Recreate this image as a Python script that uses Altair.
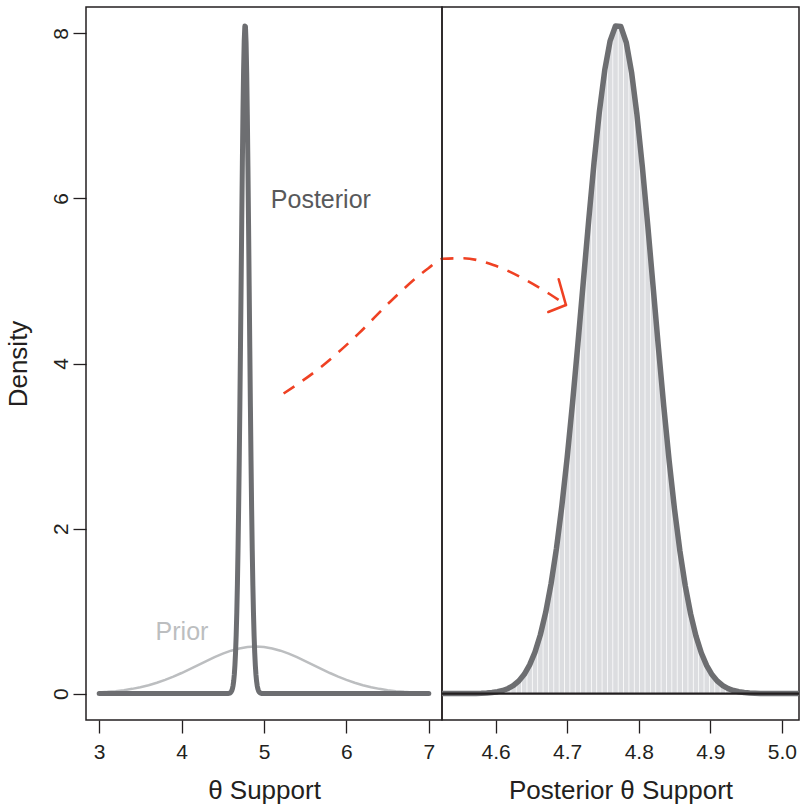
import altair as alt
import pandas as pd

# ---------------- data ----------------
prior_x = [3.0, 3.1, 3.2, 3.3, 3.4, 3.5, 3.6, 3.7, 3.8, 3.9, 4.0, 4.1, 4.2, 4.3, 4.4,
           4.5, 4.6, 4.7, 4.8, 4.9, 5.0, 5.1, 5.2, 5.3, 5.4, 5.5, 5.6, 5.7, 5.8, 5.9,
           6.0, 6.1, 6.2, 6.3, 6.4, 6.5, 6.6, 6.7, 6.8, 6.9, 7.0]
prior_y = [0.0143, 0.0209, 0.0299, 0.0418, 0.0574, 0.0771, 0.1016, 0.1311, 0.1658,
           0.2055, 0.2494, 0.2966, 0.3457, 0.3948, 0.4416, 0.4841, 0.5200, 0.5472,
           0.5642, 0.5700, 0.5642, 0.5472, 0.5200, 0.4841, 0.4416, 0.3948, 0.3457,
           0.2966, 0.2494, 0.2055, 0.1658, 0.1311, 0.1016, 0.0771, 0.0574, 0.0418,
           0.0299, 0.0209, 0.0143, 0.0096, 0.0063]

post_x = [4.55, 4.5575, 4.565, 4.5725, 4.58, 4.5875, 4.595, 4.6025, 4.61, 4.6175,
          4.625, 4.6325, 4.64, 4.6475, 4.655, 4.6625, 4.67, 4.6775, 4.685, 4.6925,
          4.7, 4.7075, 4.715, 4.7225, 4.73, 4.7375, 4.745, 4.7525, 4.76, 4.7675,
          4.775, 4.7825, 4.79, 4.7975, 4.805, 4.8125, 4.82, 4.8275, 4.835, 4.8425,
          4.85, 4.8575, 4.865, 4.8725, 4.88, 4.8875, 4.895, 4.9025, 4.91, 4.9175,
          4.925, 4.9325, 4.94, 4.9475, 4.955, 4.9625, 4.97, 4.9775, 4.985, 4.9925, 5.0]
post_y = [0.0003, 0.0007, 0.0013, 0.0024, 0.0043, 0.0077, 0.0135, 0.023, 0.038, 0.062,
          0.099, 0.154, 0.234, 0.348, 0.503, 0.713, 0.986, 1.334, 1.760, 2.271,
          2.864, 3.525, 4.243, 4.988, 5.731, 6.432, 7.053, 7.556, 7.910, 8.090,
          8.083, 7.892, 7.527, 7.015, 6.387, 5.683, 4.939, 4.194, 3.480, 2.821,
          2.234, 1.729, 1.307, 0.966, 0.697, 0.492, 0.339, 0.228, 0.150, 0.096,
          0.060, 0.037, 0.022, 0.013, 0.0074, 0.0042, 0.0023, 0.0012, 0.0006, 0.0003, 0.0002]

# posterior curve drawn across the full support (zero outside the peak)
support_ends_x = [3.0, 7.0]

# dashed red arrow path (in left-panel θ / density units)
arrow_x = [5.238, 5.682, 6.147, 6.531, 6.995, 7.170, 7.419, 7.783, 8.139, 8.470, 8.664]
arrow_y = [3.636, 3.950, 4.362, 4.749, 5.154, 5.270, 5.275, 5.194, 5.033, 4.839, 4.709]
head_x = [8.576, 8.450]
head_y = [5.021, 4.625]

left_ticks = [3, 4, 5, 6, 7]
right_ticks = [4.6, 4.7, 4.8, 4.9, 5.0]
y_ticks = [0, 2, 4, 6, 8]

labels = ["Posterior", "Prior"]
label_x = [5.69, 4.005]
label_y = [5.98, 0.746]

# ---------------- styling ----------------
FONT = "Liberation Sans"
INK = "#231f20"
POST_COL = "#6d6e71"
PRIOR_COL = "#bcbec0"
FILL_COL = "#dcdde0"
RED = "#ef4123"
H = 713
W_LEFT = 356
W_RIGHT = 357

prior_df = pd.DataFrame({"x": prior_x, "y": prior_y})
post_df = pd.DataFrame({"x": post_x, "y": post_y})
post_full = pd.DataFrame({
    "x": [support_ends_x[0]] + post_x + [support_ends_x[1]],
    "y": [0.0] + post_y + [0.0],
})
arrow_df = pd.DataFrame({"x": arrow_x, "y": arrow_y, "i": list(range(len(arrow_x)))})
head_df = pd.DataFrame({"x": [arrow_x[-1]] * 2, "y": [arrow_y[-1]] * 2,
                        "x2": head_x, "y2": head_y})
label_df = pd.DataFrame({"x": label_x, "y": label_y, "label": labels})

y_scale = alt.Scale(domain=[-0.32, 8.32], nice=False, zero=False)
xl_scale = alt.Scale(domain=[2.84, 7.16], nice=False, zero=False)
xr_scale = alt.Scale(domain=[4.532, 5.017], nice=False, zero=False)

common_axis = dict(
    tickSize=13, tickColor=INK, tickWidth=1.3, domain=False, grid=False,
    labelFont=FONT, labelFontSize=21, labelColor=INK,
    titleFont=FONT, titleFontSize=26, titleColor=INK, titleFontWeight="normal",
    labelOverlap=False, labelFlush=False,
)

x_left_axis = alt.Axis(values=left_ticks, format="d", title="θ Support",
                       labelPadding=25, labelBaseline="alphabetic",
                       titleBaseline="alphabetic", titleY=78, **common_axis)
x_right_axis = alt.Axis(values=right_ticks, format=".1f", title="Posterior θ Support",
                        labelPadding=25, labelBaseline="alphabetic",
                        titleBaseline="alphabetic", titleY=78, **common_axis)
y_axis = alt.Axis(values=y_ticks, format="d", title="Density",
                  labelAngle=270, labelAlign="center", labelBaseline="alphabetic",
                  labelPadding=6, titleAngle=270, titleAlign="center",
                  titleBaseline="alphabetic", titleX=-60, titleY=H / 2, **common_axis)

XL = alt.X("x:Q", scale=xl_scale, axis=x_left_axis)
YL = alt.Y("y:Q", scale=y_scale, axis=y_axis)

prior_line = alt.Chart(prior_df).mark_line(
    color=PRIOR_COL, strokeWidth=2.5, strokeCap="round"
).encode(x=XL, y=YL)

post_line_left = alt.Chart(post_full).mark_line(
    color=POST_COL, strokeWidth=5, strokeCap="round", strokeJoin="round"
).encode(x=XL, y=YL)

text_layer = alt.Chart(label_df).mark_text(
    font=FONT, fontSize=25, align="center", baseline="middle"
).encode(
    x=XL, y=YL, text="label:N",
    color=alt.Color("label:N", scale=alt.Scale(domain=labels, range=["#58595b", PRIOR_COL]),
                    legend=None),
)

arrow_line = alt.Chart(arrow_df).mark_line(
    color=RED, strokeWidth=2.6, strokeDash=[13, 10], interpolate="monotone",
    strokeCap="butt"
).encode(x=XL, y=YL, order="i:Q")

arrow_head = alt.Chart(head_df).mark_rule(
    color=RED, strokeWidth=2.6, strokeCap="round"
).encode(x=XL, y=YL, x2="x2:Q", y2="y2:Q")

left = alt.layer(prior_line, post_line_left, text_layer, arrow_line, arrow_head).properties(
    width=W_LEFT, height=H
)

XR = alt.X("x:Q", scale=xr_scale, axis=x_right_axis)
YR = alt.Y("y:Q", scale=y_scale, axis=None)

bars = alt.Chart(post_df).mark_bar(color=FILL_COL, size=4.6, clip=True).encode(x=XR, y=YR)
post_line_right = alt.Chart(post_full).mark_line(
    color=POST_COL, strokeWidth=5.5, strokeJoin="round", clip=True
).encode(x=XR, y=YR)
zero_rule = alt.Chart(pd.DataFrame({"y": [0.0]})).mark_rule(
    color=INK, strokeWidth=2.2
).encode(y=YR)

right = alt.layer(bars, post_line_right, zero_rule).properties(width=W_RIGHT, height=H)

chart = alt.hconcat(left, right, spacing=0, bounds="flush").properties(
    padding={"left": 4, "right": 0, "top": 6, "bottom": 4},
    background="white",
).configure_view(stroke=INK, strokeWidth=1.5).configure_concat(spacing=0)

chart.save("out.html", embed_options={"renderer": "svg", "actions": False})
